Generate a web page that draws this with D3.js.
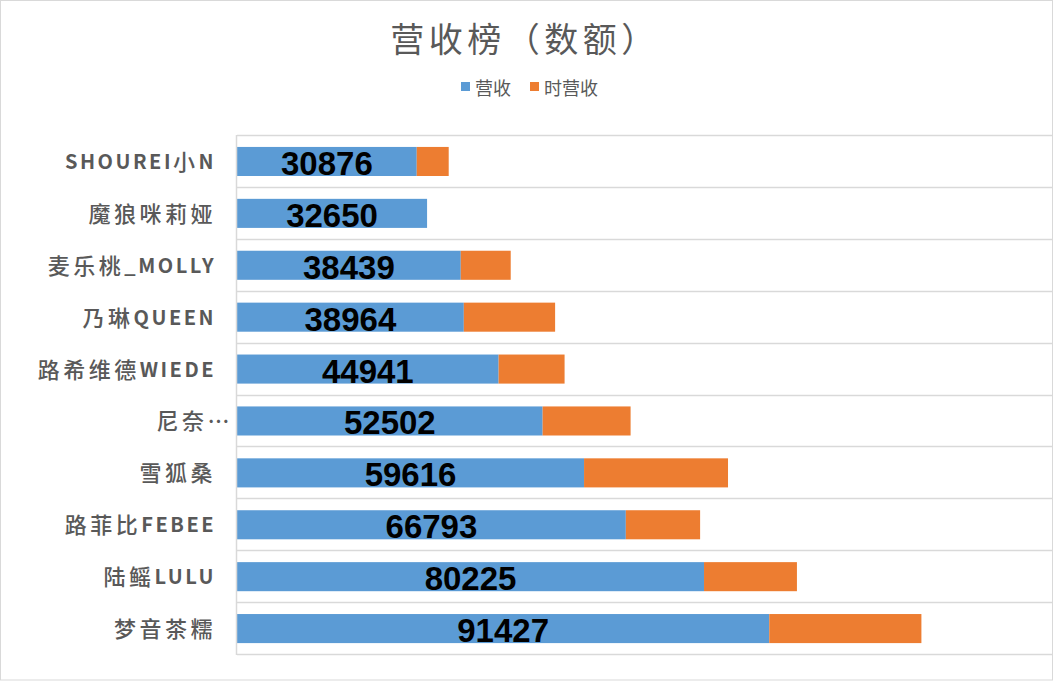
<!DOCTYPE html>
<html><head><meta charset="utf-8">
<script src="https://cdn.jsdelivr.net/npm/d3@7"></script>
<style>
html,body{margin:0;padding:0;background:#fff;}
svg{display:block;}
</style></head>
<body>
<svg id="chart" width="1054" height="681"></svg>
<script>
const categories = ["SHOUREI小N","魔狼咪莉娅","麦乐桃_MOLLY","乃琳QUEEN","路希维德WIEDE","尼奈…","雪狐桑","路菲比FEBEE","陆鳐LULU","梦音茶糯"];
const revenue = [30876,32650,38439,38964,44941,52502,59616,66793,80225,91427];
const hourlyRevenue = [5490,0,8580,15680,11330,15110,24730,12760,15960,26140];
const seriesNames = ["营收","时营收"];
const seriesColors = ["#5B9BD5","#ED7D31"];
const xMax = 140000;
const title = "营收榜（数额）";

const svg = d3.select("#chart");
const W = 1054, H = 681;
const plot = {left:237, right:1052, top:135, bottom:654};

svg.append("rect").attr("x",0.5).attr("y",0.5).attr("width",W-2).attr("height",H-1.5)
  .attr("fill","#fff").attr("stroke","#d9d9d9").attr("stroke-width",1);

const x = d3.scaleLinear().domain([0,xMax]).range([plot.left,plot.right]);
const y = d3.scaleBand().domain(categories).range([plot.top,plot.bottom]).padding(0);
const step = y.step();

const bounds = categories.map(c=>y(c)).concat([plot.bottom]);
svg.append("g").selectAll("line").data(bounds).join("line")
  .attr("x1",plot.left).attr("x2",plot.right)
  .attr("y1",d=>Math.round(d)+0.5).attr("y2",d=>Math.round(d)+0.5)
  .attr("stroke","#d9d9d9").attr("stroke-width",1.5);

const rows = categories.map((c,i)=>({cat:c, 营收:revenue[i], 时营收:hourlyRevenue[i]}));
const stack = d3.stack().keys(seriesNames)(rows);

const barOff = 0.23*step, barH = 0.56*step;
svg.append("g").selectAll("g").data(stack).join("g")
  .attr("fill",(d,i)=>seriesColors[i])
  .selectAll("rect").data(d=>d).join("rect")
  .attr("x",d=>x(d[0])).attr("width",d=>x(d[1])-x(d[0]))
  .attr("y",d=>y(d.data.cat)+barOff).attr("height",barH);

svg.append("line").attr("x1",plot.left-0.5).attr("x2",plot.left-0.5)
  .attr("y1",plot.top).attr("y2",plot.bottom+1)
  .attr("stroke","#d9d9d9").attr("stroke-width",1.5);

svg.append("g").selectAll("text").data(rows).join("text")
  .attr("x",d=>(x(0)+x(d.营收))/2)
  .attr("y",d=>y(d.cat)+barOff+barH/2+2)
  .attr("text-anchor","middle").attr("dominant-baseline","central")
  .attr("font-family","'Liberation Sans',Arial,sans-serif")
  .attr("font-weight","bold").attr("font-size",33).attr("fill","#000")
  .text(d=>d.营收);

const isCJK = ch => /[\u3400-\u9fff\u2026]/.test(ch);
function runs(s){
  const out=[]; for(const ch of s){ const c=isCJK(ch); if(out.length && out[out.length-1].c===c) out[out.length-1].t+=ch; else out.push({t:ch,c}); } return out;
}
const lab = svg.append("g").selectAll("text").data(categories).join("text")
  .attr("x",d=>d.endsWith("…") ? 233 : 216)
  .attr("y",d=>y(d)+step/2-1)
  .attr("text-anchor","end").attr("dominant-baseline","central")
  .attr("font-family","'Noto Sans CJK SC','Noto Sans',sans-serif")
  .attr("font-size",20)
  .attr("fill","#595959");
lab.selectAll("tspan").data(d=>runs(d)).join("tspan")
  .attr("letter-spacing",d=>d.c ? "3.5px" : "2.5px")
  .attr("font-size",d=>d.c ? 22 : 20)
  .attr("font-weight",d=>d.c ? 500 : 700)
  .text(d=>d.t);

svg.append("text").attr("x",525).attr("y",37)
  .attr("text-anchor","middle").attr("dominant-baseline","central")
  .attr("font-family","'Noto Sans CJK SC',sans-serif")
  .attr("font-size",34).attr("letter-spacing","4.5px").attr("fill","#595959")
  .text(title);

const legend = svg.append("g");
const legX = [461, 530];
seriesNames.forEach((s,i)=>{
  legend.append("rect").attr("x",legX[i]).attr("y",82).attr("width",9).attr("height",9).attr("fill",seriesColors[i]);
  legend.append("text").attr("x",legX[i]+14).attr("y",86.5)
    .attr("dominant-baseline","central")
    .attr("font-family","'Noto Sans CJK SC',sans-serif")
    .attr("font-size",18).attr("fill","#595959").text(s);
});
</script>
</body></html>
